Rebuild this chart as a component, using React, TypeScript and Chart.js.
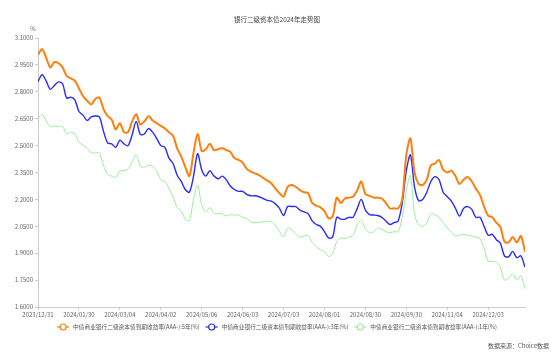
import React, { useEffect, useRef } from 'react';
import { Chart, registerables } from 'chart.js';

Chart.register(...registerables);

const FONT = "'Noto Sans CJK SC', 'Noto Sans', sans-serif";

const chartTitle = '银行二级资本债2024年走势图';
const unitLabel = '%';
const sourceText = '数据来源：Choice数据';

// x-axis tick labels, one every 20 trading days
const tickLabels = [
  '2023/12/31', '2024/01/30', '2024/03/04', '2024/04/02', '2024/05/06', '2024/06/03',
  '2024/07/03', '2024/08/01', '2024/08/30', '2024/09/30', '2024/11/04', '2024/12/03',
];
const labelEvery = 20; // trading days between tick labels
const dayStep = 2; // trading days between samples below
const lastDay = 238;

const seriesNames = [
  '中债商业银行二级资本债到期收益率(AAA-):5年(%)',
  '中债商业银行二级资本债到期收益率(AAA-):3年(%)',
  '中债商业银行二级资本债到期收益率(AAA-):1年(%)',
];

const yield5Y = [
  3.007, 3.038, 2.99, 2.936, 2.965, 2.96, 2.936, 2.889, 2.875, 2.862,
  2.82, 2.775, 2.75, 2.73, 2.76, 2.768, 2.705, 2.665, 2.645, 2.59,
  2.625, 2.575, 2.575, 2.635, 2.675, 2.618, 2.635, 2.665, 2.64, 2.625,
  2.61, 2.595, 2.575, 2.555, 2.485, 2.44, 2.38, 2.33, 2.46, 2.565,
  2.47, 2.48, 2.51, 2.475, 2.48, 2.485, 2.475, 2.465, 2.43, 2.42,
  2.405, 2.37, 2.355, 2.345, 2.335, 2.32, 2.305, 2.29, 2.26, 2.235,
  2.215, 2.27, 2.28, 2.27, 2.252, 2.24, 2.235, 2.18, 2.165, 2.156,
  2.135, 2.094, 2.105, 2.21, 2.18, 2.205, 2.21, 2.215, 2.25, 2.30,
  2.23, 2.22, 2.21, 2.21, 2.205, 2.18, 2.15, 2.15, 2.15, 2.20,
  2.45, 2.54, 2.35, 2.286, 2.28, 2.31, 2.39, 2.40, 2.42, 2.365,
  2.35, 2.36, 2.33, 2.286, 2.31, 2.325, 2.30, 2.26, 2.225, 2.16,
  2.11, 2.10, 2.07, 2.045, 1.964, 1.96, 1.99, 1.96, 1.996, 1.908,
];

const yield3Y = [
  2.857, 2.895, 2.86, 2.814, 2.835, 2.855, 2.845, 2.765, 2.77, 2.755,
  2.69, 2.67, 2.64, 2.66, 2.665, 2.66, 2.58, 2.515, 2.51, 2.49,
  2.53, 2.51, 2.50, 2.56, 2.635, 2.562, 2.565, 2.595, 2.575, 2.54,
  2.50, 2.49, 2.43, 2.40, 2.335, 2.30, 2.255, 2.24, 2.33, 2.455,
  2.365, 2.33, 2.36, 2.33, 2.315, 2.33, 2.31, 2.275, 2.255, 2.245,
  2.245, 2.228, 2.22, 2.22, 2.215, 2.205, 2.195, 2.19, 2.175, 2.15,
  2.11, 2.16, 2.16, 2.16, 2.14, 2.13, 2.12, 2.08, 2.06, 2.05,
  2.02, 1.985, 1.99, 2.10, 2.09, 2.09, 2.10, 2.10, 2.15, 2.20,
  2.14, 2.115, 2.113, 2.11, 2.10, 2.08, 2.06, 2.07, 2.08, 2.18,
  2.36, 2.448, 2.27, 2.193, 2.20, 2.24, 2.30, 2.327, 2.31, 2.24,
  2.215, 2.19, 2.15, 2.107, 2.15, 2.16, 2.144, 2.10, 2.10, 2.05,
  2.00, 2.005, 1.975, 1.955, 1.884, 1.88, 1.91, 1.875, 1.885, 1.821,
];

const yield1Y = [
  2.652, 2.675, 2.637, 2.605, 2.61, 2.605, 2.608, 2.565, 2.575, 2.565,
  2.52, 2.50, 2.485, 2.46, 2.46, 2.46, 2.39, 2.34, 2.33, 2.323,
  2.36, 2.36, 2.37, 2.41, 2.45, 2.385, 2.38, 2.39, 2.385, 2.36,
  2.31, 2.30, 2.26, 2.215, 2.155, 2.135, 2.09, 2.08, 2.20, 2.28,
  2.17, 2.13, 2.155, 2.122, 2.12, 2.12, 2.108, 2.115, 2.113, 2.113,
  2.10, 2.094, 2.075, 2.07, 2.072, 2.075, 2.079, 2.076, 2.055, 2.02,
  1.99, 2.04, 2.03, 2.005, 1.99, 1.995, 2.00, 1.96, 1.935, 1.92,
  1.908, 1.881, 1.90, 1.965, 1.985, 1.98, 1.99, 2.00, 2.06, 2.085,
  2.035, 2.015, 2.02, 2.04, 2.035, 2.02, 2.015, 2.02, 2.02, 2.10,
  2.25, 2.335, 2.12, 2.057, 2.05, 2.07, 2.12, 2.115, 2.10, 2.07,
  2.04, 2.02, 1.996, 2.00, 2.005, 2.00, 1.996, 1.99, 1.98, 1.93,
  1.855, 1.855, 1.85, 1.82, 1.75, 1.76, 1.785, 1.75, 1.775, 1.70,
];

const seriesColors = ['#ff7f0e', '#2a2aff', '#98ee98'];
const seriesWidths = [2, 1.4, 1];
const seriesValues = [yield5Y, yield3Y, yield1Y];

const yMin = 1.6;
const yMax = 3.1;
const yStep = 0.15;

const textPlugin = {
  id: 'textPlugin',
  afterDraw(chart: any) {
    const ctx = chart.ctx as CanvasRenderingContext2D;
    const W = chart.width;
    ctx.save();
    // title
    ctx.font = `6.5px ${FONT}`;
    ctx.fillStyle = '#444';
    ctx.textAlign = 'center';
    ctx.textBaseline = 'middle';
    ctx.fillText(chartTitle, W / 2, 20);
    // unit
    ctx.font = `6px ${FONT}`;
    ctx.fillStyle = '#666';
    ctx.fillText(unitLabel, 33, 29);
    // legend
    ctx.font = `5.7px ${FONT}`;
    const markerW = 12;
    const gap = 4;
    const itemGap = 6;
    const widths = seriesNames.map((n) => ctx.measureText(n).width);
    const total = widths.reduce((a, b) => a + b + markerW + gap, 0) + itemGap * (seriesNames.length - 1);
    let x = (W - total) / 2;
    const ly = 327;
    seriesNames.forEach((name, i) => {
      ctx.strokeStyle = seriesColors[i];
      ctx.lineWidth = 1.2;
      ctx.beginPath();
      ctx.moveTo(x, ly);
      ctx.lineTo(x + markerW, ly);
      ctx.stroke();
      ctx.beginPath();
      ctx.arc(x + markerW / 2, ly, 3, 0, Math.PI * 2);
      ctx.fillStyle = '#fff';
      ctx.fill();
      ctx.stroke();
      ctx.fillStyle = '#555';
      ctx.textAlign = 'left';
      ctx.fillText(name, x + markerW + gap, ly);
      x += markerW + gap + widths[i] + itemGap;
    });
    // source
    ctx.font = `6px ${FONT}`;
    ctx.textAlign = 'right';
    ctx.fillStyle = '#555';
    ctx.fillText(sourceText, W - 5, 346);
    ctx.restore();
  },
};

export default function App() {
  const canvasRef = useRef<HTMLCanvasElement | null>(null);

  useEffect(() => {
    document.body.style.margin = '0';
    const canvas = canvasRef.current;
    if (!canvas) return;
    const datasets = seriesValues.map((vals, s) => ({
      label: seriesNames[s],
      data: vals.map((v, k) => ({ x: k * dayStep, y: v })),
      borderColor: seriesColors[s],
      backgroundColor: seriesColors[s],
      borderWidth: seriesWidths[s],
      pointRadius: 0,
      tension: 0.3,
      fill: false,
    }));
    const chart = new Chart(canvas, {
      type: 'line',
      data: { datasets },
      plugins: [textPlugin],
      options: {
        animation: false,
        responsive: false,
        maintainAspectRatio: false,
        layout: { padding: { top: 38, right: 29, left: 0, bottom: 0 } },
        plugins: {
          legend: { display: false },
          title: { display: false },
          tooltip: { enabled: false },
        },
        scales: {
          x: {
            type: 'linear',
            min: 0,
            max: lastDay,
            afterFit: (scale: any) => {
              scale.height = 48;
            },
            afterBuildTicks: (scale: any) => {
              scale.ticks = scale.ticks.filter((t: any) => t.value % labelEvery === 0);
            },
            ticks: {
              stepSize: labelEvery,
              autoSkip: false,
              maxRotation: 0,
              padding: 1,
              color: '#666',
              font: { size: 6, family: FONT },
              callback: (v: any) => tickLabels[Math.round(Number(v) / labelEvery)] ?? '',
            },
            grid: { drawOnChartArea: false, drawTicks: true, tickLength: 3, color: '#ccc' },
            border: { color: '#ccc', width: 1 },
          },
          y: {
            type: 'linear',
            min: yMin,
            max: yMax,
            afterFit: (scale: any) => {
              scale.width = 38;
            },
            ticks: {
              stepSize: yStep,
              padding: 2,
              color: '#666',
              font: { size: 6, family: FONT },
              callback: (v: any) => Number(v).toFixed(4),
            },
            grid: { drawOnChartArea: false, drawTicks: true, tickLength: 3, color: '#ccc' },
            border: { color: '#ccc', width: 1 },
          },
        },
      },
    });
    return () => chart.destroy();
  }, []);

  return (
    <div style={{ position: 'fixed', left: 0, top: 0, width: 554, height: 355, background: '#fff' }}>
      <canvas ref={canvasRef} width={554} height={355} style={{ width: 554, height: 355 }} />
    </div>
  );
}
